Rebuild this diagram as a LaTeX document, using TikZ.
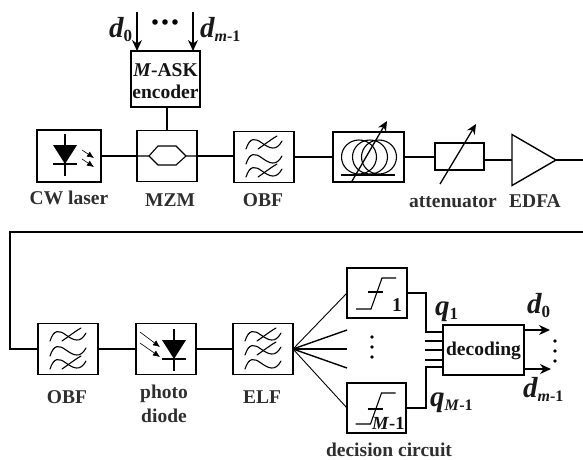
\documentclass[tikz,border=0pt]{standalone}
\usepackage{fontspec}
\setmainfont{Liberation Serif}
\usetikzlibrary{arrows.meta}
\newcommand{\bigd}{{\fontsize{29}{29}\selectfont\bfseries\itshape d}}
\newcommand{\bigq}{{\fontsize{29}{29}\selectfont\bfseries\itshape q}}
\newcommand{\subup}[1]{\raisebox{-4pt}{\fontsize{17}{17}\selectfont\bfseries #1}}
\newcommand{\subm}{\raisebox{-4pt}{\fontsize{16}{16}\selectfont\bfseries\textit{m}-1}}
\newcommand{\subM}{\raisebox{-4pt}{\fontsize{16}{16}\selectfont\bfseries\textit{M}-1}}
\tikzset{
  blockbox/.style={draw,line width=1.4pt,fill=white,inner sep=0pt,outer sep=0pt,minimum width=#1},
  lab/.style={font=\fontsize{19.5}{21}\selectfont\bfseries,text=black!82,inner sep=0pt,anchor=base},
  sym/.style={font=\fontsize{19.5}{21}\selectfont\bfseries,text=black!92,inner sep=0pt,anchor=base},
  big/.style={inner sep=0pt,anchor=base west,text=black!90},
  conn/.style={line width=1.4pt},
  thinconn/.style={line width=0.9pt},
  inner/.style={line width=1.1pt},
  filterline/.style={line width=1.1pt,line cap=round},
  bigarrow/.style={line width=1.4pt,-{Stealth[length=11pt,width=10pt]}},
  tunearrow/.style={line width=1.3pt,-{Stealth[length=10pt,width=9pt]}},
  rayarrow/.style={line width=0.6pt,-{Latex[length=7pt,width=6pt]}},
  dot/.style={fill,circle,inner sep=0pt,minimum size=3.8pt},
  bigdot/.style={fill,circle,inner sep=0pt,minimum size=5.6pt},
  pics/wave/.style={code={
    \draw[filterline] (-18,5) .. controls (-14,-7) and (-9,-6) .. (-2,-1)
       .. controls (5,4) and (12,8) .. (18,-3);
  }},
  pics/strike/.style={code={
    \draw[filterline] (-6,5) .. controls (0,1) and (6,-4) .. (13,-8);
  }},
  pics/diode/.style={code={
    \draw[inner] (0,-21) -- (0,21);
    \fill (-12,-10) -- (12,-10) -- (0,9) -- cycle;
    \draw[inner] (-12,9) -- (12,9);
  }}
}
\begin{document}
\begin{tikzpicture}[x=1pt,y=-1pt]
\useasboundingbox (0,0) rectangle (583,459);
% top row
\node[blockbox=69pt,minimum height=56pt] (enc) at (165.5,79) {};
\node[blockbox=64pt,minimum height=52pt] (cw) at (69,156) {};
\node[blockbox=60pt,minimum height=51pt] (mzm) at (167,156) {};
\node[blockbox=60pt,minimum height=51pt] (obfa) at (264,157) {};
\node[blockbox=71pt,minimum height=50pt] (fib) at (368.5,157) {};
\node[blockbox=49pt,minimum height=27pt] (att) at (459.5,156.5) {};
\node[inner sep=0pt,outer sep=0pt,minimum width=44pt,minimum height=51pt] (edfa) at (534,160) {};
\draw[line width=1.4pt,line join=miter] (edfa.north west) -- (edfa.east) -- (edfa.south west) -- cycle;
\coordinate (o1) at (583,160);
\coordinate (top1) at (137,12);
\coordinate (top2) at (193,12);
\coordinate (ret1) at (583,232);
\coordinate (ret2) at (10,232);
\coordinate (ret3) at (10,349);
% bottom row
\node[blockbox=60pt,minimum height=51pt] (obfb) at (68,349) {};
\node[blockbox=60pt,minimum height=51pt] (pd) at (166,349) {};
\node[blockbox=60pt,minimum height=51pt] (elf) at (263,349) {};
\node[blockbox=60pt,minimum height=50pt] (dca) at (377,293) {};
\node[blockbox=59pt,minimum height=50pt] (dcb) at (376.5,408) {};
\node[blockbox=81pt,minimum height=50pt] (dec) at (483.5,350) {};
% connectors
\draw[bigarrow] (top1) -- (top1 |- enc.north);
\draw[bigarrow] (top2) -- (top2 |- enc.north);
\draw[conn] (mzm.north |- enc.south) -- (mzm.north);
\draw[conn] (cw) -- (mzm);
\draw[conn] (mzm.east) -- (obfa.west |- mzm.east);
\draw[conn] (obfa) -- (fib);
\draw[conn] (fib) -- (att.west |- fib.east);
\draw[conn] (att.east |- edfa.west) -- (edfa.west);
\draw[conn] (edfa.east) -- (o1);
\draw[conn] (ret1) -- (ret2) -- (ret3) -- (obfb.west);
\draw[conn] (obfb) -- (pd);
\draw[conn] (pd) -- (elf);
% fan
\coordinate (fan2) at (347,330);
\coordinate (fan3) at (347,349);
\coordinate (fan4) at (347,368);
\draw[thinconn] (elf.east) -- (dca.west);
\draw[thinconn] (elf.east) -- (dcb.west);
\draw[conn] (elf.east) -- (fan2);
\draw[conn] (elf.east) -- (fan3);
\draw[conn] (elf.east) -- (fan4);
% decoding inputs
\coordinate (in1) at (443,332);
\coordinate (in2) at (443,341);
\coordinate (in3) at (443,350);
\coordinate (in4) at (443,360);
\coordinate (in5) at (443,367);
\draw[conn] (dca.east) -- (426,293) -- (426,332) -- (in1);
\draw[conn] (dcb.east) -- (426,408) -- (426,367) -- (in5);
\draw[conn] (425,341) -- (in2);
\draw[conn] (425,350) -- (in3);
\draw[conn] (425,360) -- (in4);
\coordinate (ou1) at (550,330);
\coordinate (ou2) at (551,369);
\draw[bigarrow] (dec.east |- ou1) -- (ou1);
\draw[bigarrow] (dec.east |- ou2) -- (ou2);
% laser
\pic at (65,155) {diode};
\draw[rayarrow] (82,150) -- (94,158);
\draw[rayarrow] (82,159) -- (94,167);
% MZM
\draw[inner] (mzm.west) -- (149,156) -- (158,146) -- (176,146) -- (186,156) -- (mzm.east);
\draw[inner] (149,156) -- (158,165) -- (176,165) -- (186,156);
% filters
\begin{scope}[shift={(264,157)}]
  \pic at (0,-13) {wave}; \pic at (0,-13) {strike};
  \pic at (0,2) {wave};
  \pic at (0,15) {wave}; \pic at (0,15) {strike};
\end{scope}
\begin{scope}[shift={(68,349)}]
  \pic at (0,-13) {wave}; \pic at (0,-13) {strike};
  \pic at (0,2) {wave};
  \pic at (0,15) {wave}; \pic at (0,15) {strike};
\end{scope}
\begin{scope}[shift={(263,349)}]
  \pic at (0,-13) {wave}; \pic at (0,-13) {strike};
  \pic at (0,1) {wave}; \pic at (0,1) {strike};
  \pic at (0,15) {wave};
\end{scope}
% photodiode
\pic at (174,350) {diode};
\draw[rayarrow] (140,332) -- (160,347);
\draw[rayarrow] (140,343) -- (160,357);
% fibre
\draw[inner] (359,157) ellipse (17.5 and 17);
\draw[inner] (370,157) ellipse (17.5 and 17);
\draw[inner] (379,157) ellipse (17.5 and 17);
\draw[inner] (341,175) -- (395,175);
\draw[tunearrow] (351.5,182) -- (387,121);
% attenuator
\draw[tunearrow] (440,184) -- (476,124);
% step symbols
\begin{scope}[shift={(377,293)}]
  \draw[inner] (-21,16) -- (-6,16) -- (5,-15) -- (19,-15);
  \draw[inner] (-9,-1) -- (6,-1);
\end{scope}
\begin{scope}[shift={(376.5,408)}]
  \draw[inner] (-21,16) -- (-6,16) -- (5,-15) -- (19,-15);
  \draw[inner] (-9,1) -- (6,1);
\end{scope}
% dots
\foreach \a/\b [count=\i] in {155/22,165/22,175/22}
  \node[bigdot] (tdot\i) at (\a,\b) {};
\foreach \a/\b [count=\i] in {372/337,372/347,372/357,555/341,555/351,555/361}
  \node[dot] (dot\i) at (\a,\b) {};
% text
\node[sym] (t1) at (165.5,76) {\textit{M}-ASK};
\node[sym] (t2) at (165.5,98) {encoder};
\node[lab] (t3) at (69,204) {CW laser};
\node[lab] (t4) at (170,206) {MZM};
\node[lab] (t5) at (263,206) {OBF};
\node[lab] (t6) at (453,207) {attenuator};
\node[lab] (t7) at (535,207) {EDFA};
\node[lab] (t8) at (67,403) {OBF};
\node[lab] (t9) at (164,398) {photo};
\node[lab] (t10) at (164,422) {diode};
\node[lab] (t11) at (262,403) {ELF};
\node[lab] (t12) at (389,456) {decision circuit};
\node[sym] (t13) at (397,311) {1};
\node[sym,anchor=base west,font=\fontsize{18.5}{20}\selectfont\bfseries] (t14) at (372,429) {\textit{M}-1};
\node[sym] (t15) at (483.5,355) {decoding};
\node[big] (s1) at (109,37) {\bigd\subup{0}};
\node[big] (s2) at (200,37) {\bigd\subm};
\node[big] (s3) at (435,315) {\bigq\subup{1}};
\node[big] (s4) at (430,406) {\bigq\subM};
\node[big] (s5) at (527,313) {\bigd\subup{0}};
\node[big] (s6) at (523,397) {\bigd\subm};
\end{tikzpicture}
\end{document}
